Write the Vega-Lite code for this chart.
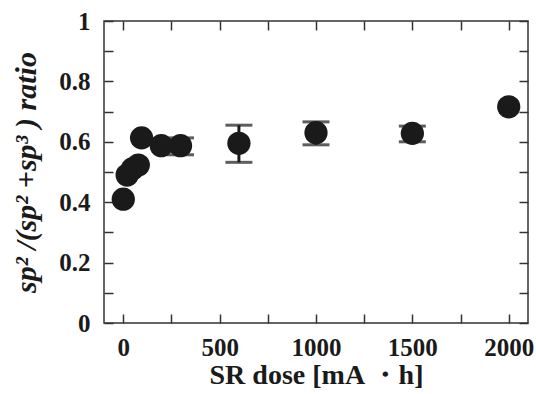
{
  "$schema": "https://vega.github.io/schema/vega-lite/v6.json",
  "width": 424,
  "height": 302,
  "padding": {"left": 11, "top": 9, "right": 7, "bottom": 5},
  "background": "white",
  "config": {
    "view": {"stroke": "#333", "strokeWidth": 1.5},
    "axis": {"grid": false, "domain": false, "tickColor": "#333", "tickWidth": 1.5, "tickSize": -9,
      "labelFont": "Liberation Serif", "labelFontWeight": "bold", "labelFontSize": 25, "labelColor": "#1a1a1a",
      "titleFont": "Liberation Serif", "titleFontWeight": "bold", "titleFontSize": 28, "titleColor": "#1a1a1a"}
  },
  "data": {"values": [
    {"dose": 0, "ratio": 0.41},
    {"dose": 20, "ratio": 0.49},
    {"dose": 47, "ratio": 0.51},
    {"dose": 78, "ratio": 0.523},
    {"dose": 95, "ratio": 0.613},
    {"dose": 197, "ratio": 0.587},
    {"dose": 297, "ratio": 0.587, "lo": 0.557, "hi": 0.613},
    {"dose": 600, "ratio": 0.595, "lo": 0.532, "hi": 0.655},
    {"dose": 1000, "ratio": 0.63, "lo": 0.59, "hi": 0.666},
    {"dose": 1500, "ratio": 0.628, "lo": 0.6, "hi": 0.652},
    {"dose": 2000, "ratio": 0.716}
  ]},
  "resolve": {"axis": {"x": "independent", "y": "independent"}},
  "layer": [
    {
      "transform": [{"filter": "datum.lo != null"}],
      "mark": {"type": "rule", "color": "#1a1a1a", "strokeWidth": 3},
      "encoding": {
        "x": {"field": "dose", "type": "quantitative", "scale": {"domain": [-100, 2100], "nice": false},
          "axis": {"orient": "top", "values": [0,250,500,750,1000,1250,1500,1750,2000], "labels": false, "title": null}},
        "y": {"field": "lo", "type": "quantitative", "scale": {"domain": [0, 1], "nice": false},
          "axis": {"orient": "right", "values": [0,0.1,0.2,0.3,0.4,0.5,0.6,0.7,0.8,0.9,1], "labels": false, "title": null}},
        "y2": {"field": "hi"}
      }
    },
    {
      "transform": [{"filter": "datum.lo != null"}],
      "mark": {"type": "tick", "color": "#1a1a1a", "orient": "horizontal", "size": 27, "thickness": 3},
      "encoding": {
        "x": {"field": "dose", "type": "quantitative", "axis": null},
        "y": {"field": "lo", "type": "quantitative", "axis": null}
      }
    },
    {
      "transform": [{"filter": "datum.lo != null"}],
      "mark": {"type": "tick", "color": "#1a1a1a", "orient": "horizontal", "size": 27, "thickness": 3},
      "encoding": {
        "x": {"field": "dose", "type": "quantitative", "axis": null},
        "y": {"field": "hi", "type": "quantitative", "axis": null}
      }
    },
    {
      "mark": {"type": "point", "shape": "circle", "filled": true, "color": "#1a1a1a", "opacity": 1, "size": 540},
      "encoding": {
        "x": {"field": "dose", "type": "quantitative",
          "axis": {"orient": "bottom", "values": [0,250,500,750,1000,1250,1500,1750,2000],
            "labelExpr": "datum.value % 500 == 0 ? format(datum.value, 'd') : ''", "labelPadding": 21,
            "title": "SR dose [mA ・h]", "titlePadding": 1}},
        "y": {"field": "ratio", "type": "quantitative",
          "axis": {"orient": "left", "values": [0,0.1,0.2,0.3,0.4,0.5,0.6,0.7,0.8,0.9,1],
            "labelExpr": "round(datum.value*10) % 2 == 0 ? format(datum.value, '~g') : ''", "labelPadding": 23,
            "title": "sp² /(sp² +sp³ ) ratio", "titleFontStyle": "italic", "titleFontSize": 30, "titlePadding": 17}}
      }
    }
  ]
}
